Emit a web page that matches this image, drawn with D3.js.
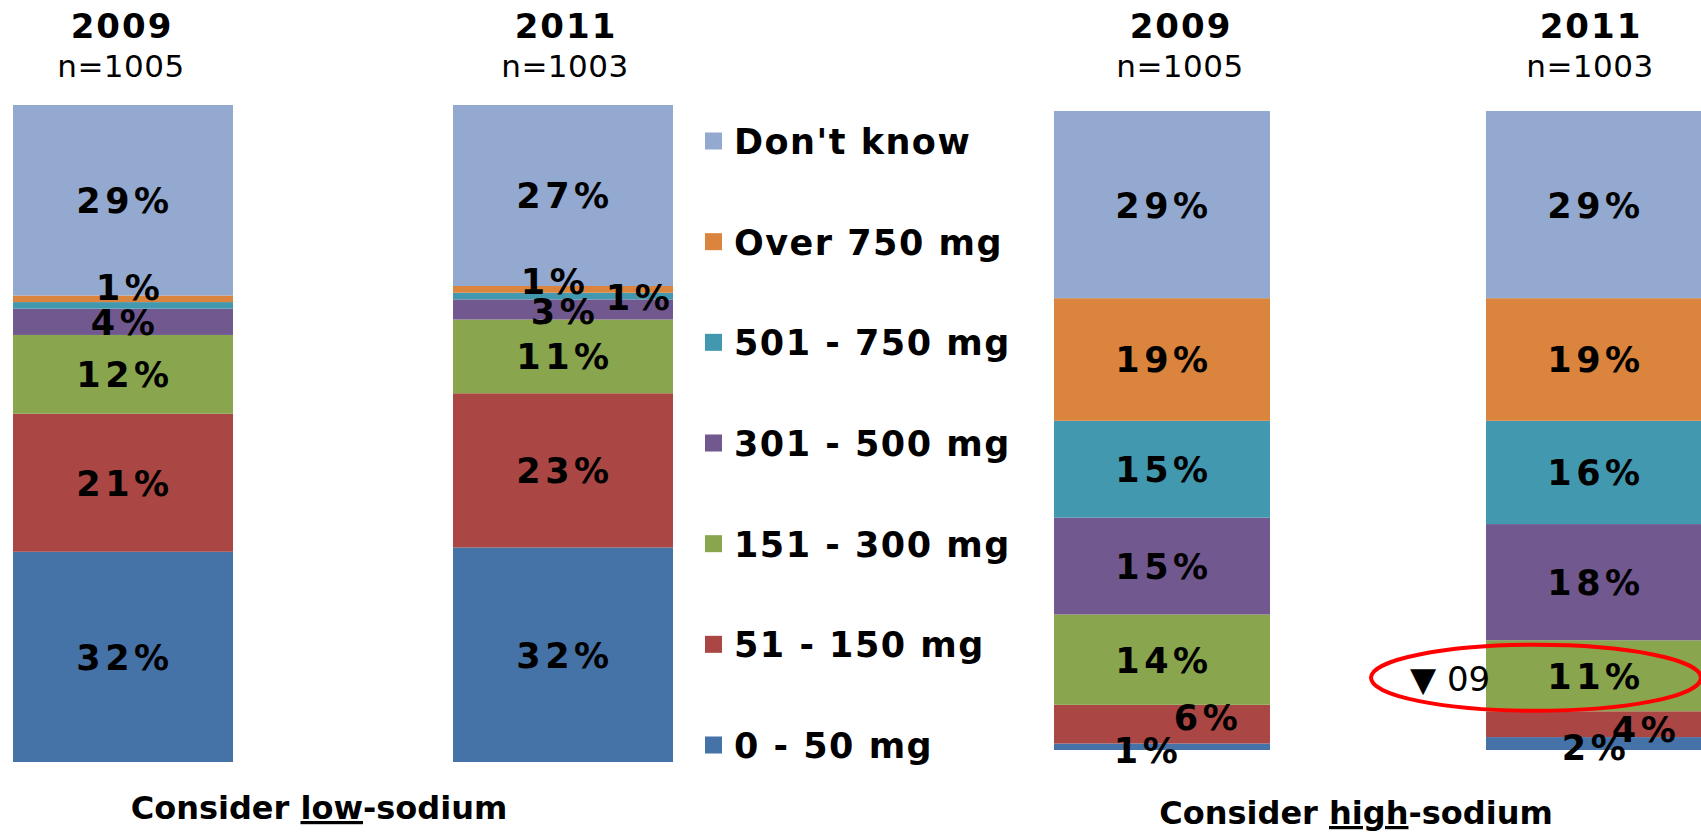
<!DOCTYPE html>
<html>
<head>
<meta charset="utf-8">
<script src="https://cdn.jsdelivr.net/npm/d3@7"></script>
<style>
	body { margin: 0; background: #fff; }
	.pct { font-family: "DejaVu Sans"; font-weight: bold; font-size: 35px; letter-spacing: 4.5px; fill: #000; }
	.year { font-family: "DejaVu Sans"; font-weight: bold; font-size: 34px; letter-spacing: 2px; fill: #000; }
	.size { font-family: "DejaVu Sans"; font-size: 31px; letter-spacing: 0.5px; fill: #000; }
	.legendText { font-family: "DejaVu Sans"; font-weight: bold; font-size: 35px; letter-spacing: 1.5px; fill: #000; }
	.caption { font-family: "DejaVu Sans"; font-weight: bold; font-size: 32px; fill: #000; }
	.note { font-family: "DejaVu Sans"; font-size: 34px; fill: #000; }
</style>
</head>
<body>
<div class="mainContainer"></div>
<script>
// stack order, bottom to top
var categories = ["0 - 50 mg", "51 - 150 mg", "151 - 300 mg", "301 - 500 mg", "501 - 750 mg", "Over 750 mg", "Don't know"];
var colors = ["#4572a7", "#aa4643", "#89a54e", "#71588f", "#4198af", "#db843d", "#93a9cf"];

var years = ["2009", "2011"];
var sampleSizes = ["n=1005", "n=1003"];

var low2009 = [32, 21, 12, 4, 1, 1, 29];
var low2011 = [32, 23, 11, 3, 1, 1, 27];
var high2009 = [1, 6, 14, 15, 15, 19, 29];
var high2011 = [2, 4, 11, 18, 16, 19, 29];

var captions = [["Consider ", "low", "-sodium"], ["Consider ", "high", "-sodium"]];
var changeNote = "\u25BC 09";

var width = 1701, height = 833;

var svg = d3.select('.mainContainer').append('svg').attr('width', width).attr('height', height);

function toRows(a, b) {
	return [a, b].map(function(vals, i) {
		var row = { year: years[i] };
		categories.forEach(function(c, j) { row[c] = vals[j]; });
		return row;
	});
}

// layout for the two panels
var groups = [
	{ name: 'low', rows: toRows(low2009, low2011), x0: 13, x1: 673, top: 105, bottom: 762, capDx: -24, capY: 819,
		titleDx: [-2, 2] },
	{ name: 'high', rows: toRows(high2009, high2011), x0: 1054, x1: 1702, top: 111, bottom: 750, capDx: -22, capY: 824,
		titleDx: [18, -4] }
];

// hand-nudged labels for thin slices (null = label hidden)
var labelNudge = {
	'low|2009|501 - 750 mg': null,
	'low|2009|Over 750 mg': [5, -12],
	'low|2011|Over 750 mg': [-10, -8],
	'low|2011|501 - 750 mg': [75, 1],
	'low|2011|301 - 500 mg': [0, 2],
	'high|2009|0 - 50 mg': [-16, 3],
	'high|2009|51 - 150 mg': [44, -7],
	'high|2011|0 - 50 mg': [0, 4],
	'high|2011|51 - 150 mg': [50, 5]
};

var stack = d3.stack().keys(categories).offset(d3.stackOffsetExpand);
var color = d3.scaleOrdinal().domain(categories).range(colors);

groups.forEach(function(g) {
	var x = d3.scaleBand().domain(years).range([g.x0, g.x1]).paddingInner(0.5).paddingOuter(0);
	var y = d3.scaleLinear().domain([0, 1]).range([g.bottom, g.top]);
	var series = stack(g.rows);
	g.x = x; g.y = y;

	var layer = svg.append('g').attr('class', g.name);

	layer.selectAll('g.series').data(series).enter().append('g')
		.attr('class', 'series')
		.style('fill', function(s) { return color(s.key); })
		.selectAll('rect').data(function(s) { return s; }).enter().append('rect')
		.attr('x', function(d) { return x(d.data.year); })
		.attr('y', function(d) { return y(d[1]); })
		.attr('width', x.bandwidth())
		.attr('height', function(d) { return y(d[0]) - y(d[1]); });

	series.forEach(function(s) {
		s.forEach(function(d) {
			var key = g.name + '|' + d.data.year + '|' + s.key;
			var nudge = labelNudge.hasOwnProperty(key) ? labelNudge[key] : [0, 0];
			if (nudge === null) return;
			layer.append('text').attr('class', 'pct')
				.attr('text-anchor', 'middle')
				.attr('x', x(d.data.year) + x.bandwidth() / 2 + nudge[0] + 2)
				.attr('y', y((d[0] + d[1]) / 2) + nudge[1])
				.attr('dy', '0.37em')
				.text(d.data[s.key] + '%');
		});
	});

	// year + sample size headers
	years.forEach(function(yr, i) {
		var cx = x(yr) + x.bandwidth() / 2 + g.titleDx[i];
		layer.append('text').attr('class', 'year').attr('text-anchor', 'middle').attr('x', cx + 1).attr('y', 38).text(yr);
		layer.append('text').attr('class', 'size').attr('text-anchor', 'middle').attr('x', cx).attr('y', 77).text(sampleSizes[i]);
	});
});

// captions under each panel
groups.forEach(function(g, i) {
	var cap = svg.append('text').attr('class', 'caption').attr('text-anchor', 'middle')
		.attr('x', (g.x0 + g.x1) / 2 + g.capDx).attr('y', g.capY);
	cap.append('tspan').text(captions[i][0]);
	cap.append('tspan').style('text-decoration', 'underline').text(captions[i][1]);
	cap.append('tspan').text(captions[i][2]);
});

// legend
var legend = svg.append('g').attr('class', 'legend');
var legendOrder = categories.slice().reverse();
var ly = d3.scalePoint().domain(legendOrder).range([141, 745]);
legendOrder.forEach(function(c) {
	legend.append('rect').attr('x', 705).attr('y', ly(c) - 8.5).attr('width', 17).attr('height', 17).style('fill', color(c));
	legend.append('text').attr('class', 'legendText').attr('x', 734).attr('y', ly(c)).attr('dy', '0.37em').text(c);
});

// highlight of the 2011 high-sodium 151-300 mg change
var hg = groups[1];
var seg = stack(hg.rows)[2][1];
var segMid = hg.y((seg[0] + seg[1]) / 2);
var barLeft = hg.x('2011');
svg.append('ellipse')
	.attr('cx', barLeft + hg.x.bandwidth() / 2 - 58)
	.attr('cy', segMid + 2)
	.attr('rx', 165).attr('ry', 33)
	.style('fill', 'none').style('stroke', '#ff0000').style('stroke-width', 4);
svg.append('text').attr('class', 'note')
	.attr('x', barLeft - 76).attr('y', segMid + 3).attr('dy', '0.37em')
	.text(changeNote);
</script>
</body>
</html>
